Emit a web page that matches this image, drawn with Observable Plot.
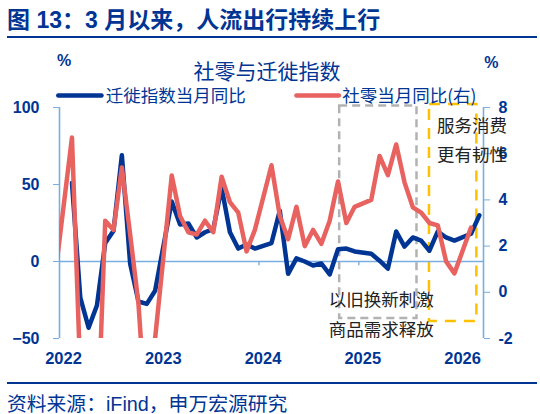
<!DOCTYPE html>
<html><head><meta charset="utf-8">
<script src="https://cdn.jsdelivr.net/npm/d3@7"></script>
<script src="https://cdn.jsdelivr.net/npm/@observablehq/plot@0.6"></script>
<style>
html,body{margin:0;padding:0;background:#fff;width:540px;height:414px;overflow:hidden}
body{font-family:"Liberation Sans","Noto Sans CJK SC",sans-serif;color:#003594}
#t{box-sizing:border-box;height:38px;margin:0 3px 0 7px;border-bottom:2px solid #003594;font:bold 23px/41px "Liberation Sans","Noto Sans CJK SC",sans-serif;white-space:pre}
#p svg{display:block}
#f{box-sizing:border-box;height:32px;margin:0 3px 0 7px;border-top:2px solid #003594;font:19.8px/40px "Liberation Sans","Noto Sans CJK SC",sans-serif;white-space:nowrap}
#f span{border-bottom:1px dotted #6f93cf}
</style></head><body>
<div id="t">图 13：3 月以来，人流出行持续上行</div>
<div id="p"></div>
<div id="f">资料来源：<span>iFind</span>，申万宏源研究</div>
<script>
// Month position: number of months since 2022-01; Januaries after 2022 are not reported.
const migrationMonths = [1,2,3,4,5,6,7,8,9,10,11, 13,14,15,16,17,18,19,20,21,22,23, 25,26,27,28,29,30,31,32,33,34,35, 37,38,39,40,41,42,43,44,45,46,47, 49,50];
const migrationYoY = [51,-23.5,-43,-28.6,12,20,69,-1.5,-26,-27.5,-19, 39,24,24.7,15.6,19,21,48,19,8.4,11,8.4, 12,33,-8,2,0,-2.6,-1.3,-8.4,8,8.4,6.5, 5,0.5,-4.6,19.5,9.7,15.6,13.6,7,19.5,15.6,13.6, 18,30];
const retailMonths = [-1,1,2,3,4,5,6,7,8,9,10,11, 13,14,15,16,17,18,19,20,21,22,23, 25,26,27,28,29,30,31,32,33,34,35, 37,38,39,40,41,42,43,44,45,46,47, 49];
const retailYoY = [0.8,6.7,-3.5,-11.1,-6.7,3.1,2.7,5.4,2.5,-0.5,-5.9,-2, 5.06,3.3,2.6,2.5,3.1,2.6,5,3.9,3.45,1.77,2.7, 5.5,3.3,2.3,3.7,2,2.7,2.1,3.1,4.8,3,3.7, 4,5.9,5.07,6.4,4.76,3.68,3.45,3,2.9,1.34,0.82, 2.8];
const yearTicks = [0,12,24,36,48];
const yearLabels = ["2022","2023","2024","2025","2026"];
const leftTicks = [-50,0,50,100];
const rightTicks = [-2,0,2,4,6,8];

const blue = "#003594", red = "#E8625F", axisBlue = "#7AADE0", grey = "#B2B2B2", amber = "#FFC000";
const cjk = '"Noto Sans CJK SC",sans-serif';
const latin = '"Liberation Sans",sans-serif';
const toLeft = v => -50 + (v + 2) * 15;   // right axis (-2..8) onto left axis (-50..100)
const midX = i => i + 0.5;

const migration = migrationMonths.map((m, i) => ({x: midX(m), y: migrationYoY[i]}));
const retail = retailMonths.map((m, i) => ({x: midX(m), y: toLeft(retailYoY[i])}));

const labels = [
  {x: 24.95, y: 123, text: "社零与迁徙指数", size: 21, fill: blue},
  {x: 5.55, y: 107.5, text: "迁徙指数当月同比", size: 17.5, fill: blue, anchor: "start"},
  {x: 34.0, y: 107.5, text: "社零当月同比(右)", size: 17.5, fill: blue, anchor: "start"},
  {x: 45.4, y: 88, text: "服务消费", size: 17.5, fill: "#222", anchor: "start"},
  {x: 45.4, y: 69, text: "更有韧性", size: 17.5, fill: "#222", anchor: "start"},
  {x: 32.4, y: -25.5, text: "以旧换新刺激", size: 17.5, fill: "#222", anchor: "start"},
  {x: 32.4, y: -45, text: "商品需求释放", size: 17.5, fill: "#222", anchor: "start"}
];
const units = [{x: 0.55, y: 130, text: "%"}, {x: 51.95, y: 129, text: "%"}];

const chart = Plot.plot({
  width: 540, height: 344,
  marginLeft: 59, marginRight: 57, marginTop: 69, marginBottom: 44,
  x: {type: "linear", domain: [0, 51]},
  y: {domain: [-50, 100]},
  style: {background: "transparent", overflow: "visible"},
  marks: [
    Plot.rect([{x1: 33.7, x2: 43, y1: -37, y2: 101}], {x1: "x1", x2: "x2", y1: "y1", y2: "y2", fill: "none", stroke: grey, strokeWidth: 2.5, strokeDasharray: "8 5"}),
    Plot.rect([{x1: 44.5, x2: 50.2, y1: -39, y2: 102}], {x1: "x1", x2: "x2", y1: "y1", y2: "y2", fill: "none", stroke: amber, strokeWidth: 2.5, strokeDasharray: "11 8"}),
    Plot.ruleX([0, 51], {y1: -50, y2: 100, stroke: axisBlue, strokeWidth: 1.6}),
    Plot.ruleY([0], {stroke: axisBlue, strokeWidth: 1.6}),
    Plot.ruleX(yearTicks.slice(1), {y1: 0, y2: -2.8, stroke: axisBlue, strokeWidth: 1.4}),
    Plot.axisY({anchor: "left", ticks: leftTicks, tickSize: 6, tickPadding: 14, stroke: axisBlue, fill: blue, fontSize: 16, fontWeight: "bold", fontFamily: latin, label: null}),
    Plot.axisY({anchor: "right", ticks: rightTicks.map(toLeft), tickFormat: v => String(Math.round((v + 50) / 15 - 2)), tickSize: 6, tickPadding: 9, stroke: axisBlue, fill: blue, fontSize: 16, fontWeight: "bold", fontFamily: latin, label: null}),
    Plot.axisX({anchor: "bottom", ticks: yearTicks, tickFormat: v => yearLabels[yearTicks.indexOf(v)], tickSize: 0, tickPadding: 14, dx: 4, fill: blue, fontSize: 16.5, fontWeight: "bold", fontFamily: latin, label: null}),
    Plot.line(migration, {x: "x", y: "y", stroke: blue, strokeWidth: 4.5, strokeLinejoin: "round", clip: true}),
    Plot.line(retail, {x: "x", y: "y", stroke: red, strokeWidth: 4.5, strokeLinejoin: "round", clip: true}),
    Plot.link([{x1: -0.15, x2: 5.05, y: 107.8}], {x1: "x1", x2: "x2", y1: "y", y2: "y", stroke: blue, strokeWidth: 4.5, strokeLinecap: "round"}),
    Plot.link([{x1: 28.5, x2: 33.6, y: 107.8}], {x1: "x1", x2: "x2", y1: "y", y2: "y", stroke: red, strokeWidth: 4.5, strokeLinecap: "round"}),
    Plot.text(labels.filter(d => !d.anchor), {x: "x", y: "y", text: "text", fontSize: "size", fill: "fill", fontFamily: cjk}),
    Plot.text(labels.filter(d => d.anchor), {x: "x", y: "y", text: "text", fontSize: "size", fill: "fill", fontFamily: cjk, textAnchor: "start"}),
    Plot.text(units, {x: "x", y: "y", text: "text", fontSize: 16, fill: blue, fontFamily: latin, fontWeight: "bold"})
  ]
});
document.getElementById("p").appendChild(chart);
</script>
</body></html>
